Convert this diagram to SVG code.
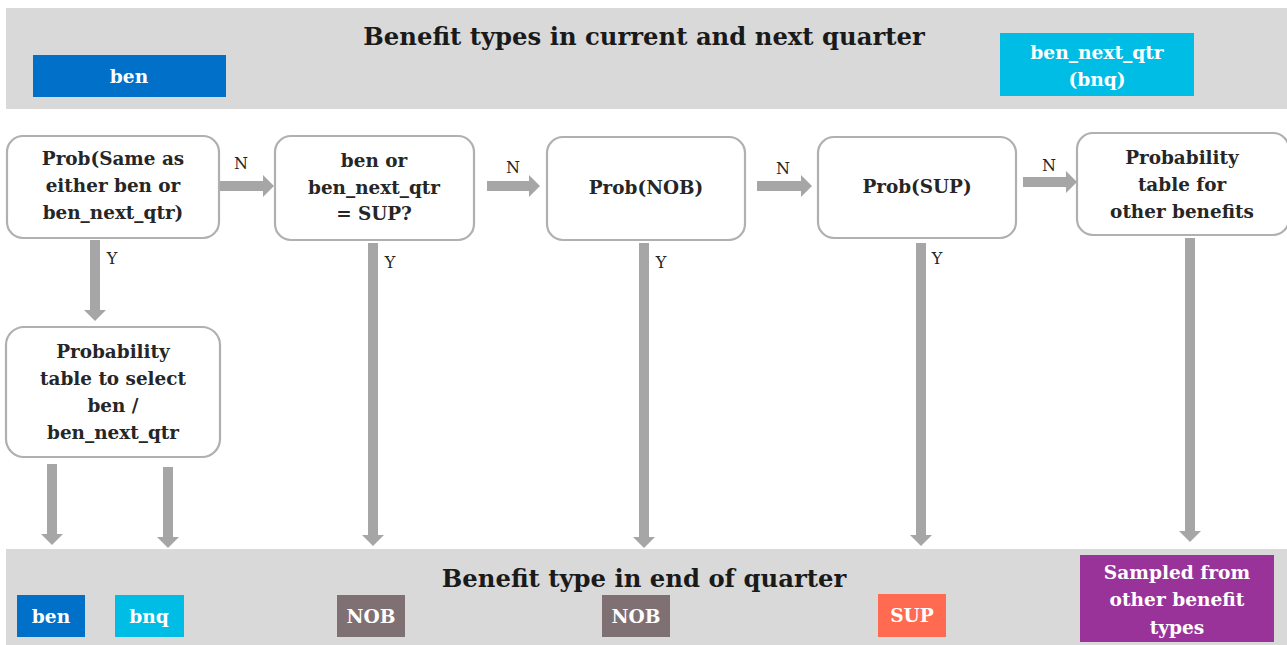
<svg xmlns="http://www.w3.org/2000/svg" width="1287" height="645" viewBox="0 0 1287 645">
<defs>
<style>
.band{fill:#d9d9d9}
.t{font-family:"DejaVu Serif","Liberation Serif",serif;font-weight:bold;fill:#262626;text-anchor:middle}
.nt{font-size:18.4px}
.title{font-size:24.3px;fill:#1a1a1a}
.w{fill:#fff;font-size:18.6px}
.lab{font-family:"DejaVu Serif","Liberation Serif",serif;font-size:16px;fill:#262626;text-anchor:middle}
.ar{stroke:#a6a6a6;stroke-width:10;fill:none}
.box{fill:#fff;stroke:#b0b0b0;stroke-width:2.2}
</style>
<marker id="ah" markerUnits="userSpaceOnUse" markerWidth="12" markerHeight="22" viewBox="0 0 12 22" refX="0" refY="11" orient="auto">
<path d="M0,0 L11,11 L0,22 Z" fill="#a6a6a6"/>
</marker>
</defs>
<rect width="1287" height="645" fill="#fff"/>
<g id="top-band">
<rect class="band" x="6" y="8" width="1281" height="101"/>
<text class="t title" x="644" y="45">Benefit types in current and next quarter</text>
<rect x="33" y="55" width="193" height="42" fill="#0070c8"/>
<text class="t w" x="129" y="83">ben</text>
<rect x="1000" y="33" width="194" height="63" fill="#00bde6"/>
<text class="t w" x="1097" y="59">ben_next_qtr</text>
<text class="t w" x="1097" y="86">(bnq)</text>
</g>
<g id="bottom-band">
<rect class="band" x="6" y="549" width="1281" height="96"/>
<text class="t title" x="644" y="587">Benefit type in end of quarter</text>
<rect x="17" y="595" width="68" height="42" fill="#0070c8"/>
<text class="t w" x="51" y="623">ben</text>
<rect x="115" y="595" width="69" height="42" fill="#00bde6"/>
<text class="t w" x="149" y="623">bnq</text>
<rect x="337" y="595" width="68" height="42" fill="#7f7073"/>
<text class="t w" x="371" y="623">NOB</text>
<rect x="602" y="595" width="68" height="42" fill="#7f7073"/>
<text class="t w" x="636" y="623">NOB</text>
<rect x="878" y="594" width="68" height="43" fill="#ff6b50"/>
<text class="t w" x="912" y="622">SUP</text>
<rect x="1080" y="555" width="194" height="87" fill="#993399"/>
<text class="t w" x="1177" y="579">Sampled from</text>
<text class="t w" x="1177" y="606">other benefit</text>
<text class="t w" x="1177" y="634">types</text>
</g>
<g id="node-same">
<rect class="box" x="7" y="136" width="212" height="102" rx="16"/>
<text class="t nt" x="113" y="165">Prob(Same as</text>
<text class="t nt" x="113" y="192">either ben or</text>
<text class="t nt" x="113" y="219">ben_next_qtr)</text>
</g>
<g id="node-sup-check">
<rect class="box" x="275" y="136" width="199" height="104" rx="16"/>
<text class="t nt" x="374" y="167">ben or</text>
<text class="t nt" x="374" y="194">ben_next_qtr</text>
<text class="t nt" x="374" y="220">= SUP?</text>
</g>
<g id="node-nob">
<rect class="box" x="547" y="137" width="198" height="103" rx="16"/>
<text class="t nt" x="646" y="194">Prob(NOB)</text>
</g>
<g id="node-sup">
<rect class="box" x="818" y="137" width="198" height="101" rx="16"/>
<text class="t nt" x="917" y="193">Prob(SUP)</text>
</g>
<g id="node-other">
<rect class="box" x="1077" y="133" width="212" height="102" rx="16"/>
<text class="t nt" x="1182" y="164">Probability</text>
<text class="t nt" x="1182" y="191">table for</text>
<text class="t nt" x="1182" y="218">other benefits</text>
</g>
<g id="node-select">
<rect class="box" x="6" y="327" width="214" height="130" rx="18"/>
<text class="t nt" x="113" y="358">Probability</text>
<text class="t nt" x="113" y="385">table to select</text>
<text class="t nt" x="113" y="412">ben /</text>
<text class="t nt" x="113" y="439">ben_next_qtr</text>
</g>
<g id="connectors">
<line class="ar" x1="220" y1="186" x2="263" y2="186" marker-end="url(#ah)"/>
<line class="ar" x1="487" y1="186" x2="529" y2="186" marker-end="url(#ah)"/>
<line class="ar" x1="757" y1="186" x2="801" y2="186" marker-end="url(#ah)"/>
<line class="ar" x1="1023" y1="182" x2="1066" y2="182" marker-end="url(#ah)"/>
<line class="ar" x1="95" y1="240" x2="95" y2="310" marker-end="url(#ah)"/>
<line class="ar" x1="373" y1="243" x2="373" y2="535" marker-end="url(#ah)"/>
<line class="ar" x1="644" y1="243" x2="644" y2="537" marker-end="url(#ah)"/>
<line class="ar" x1="921" y1="243" x2="921" y2="535" marker-end="url(#ah)"/>
<line class="ar" x1="1190" y1="238" x2="1190" y2="531" marker-end="url(#ah)"/>
<line class="ar" x1="52" y1="464" x2="52" y2="534" marker-end="url(#ah)"/>
<line class="ar" x1="168" y1="467" x2="168" y2="537" marker-end="url(#ah)"/>
<text class="lab" x="241" y="169">N</text>
<text class="lab" x="513" y="173">N</text>
<text class="lab" x="783" y="174">N</text>
<text class="lab" x="1049" y="171">N</text>
<text class="lab" x="112" y="264">Y</text>
<text class="lab" x="390" y="268">Y</text>
<text class="lab" x="661" y="268">Y</text>
<text class="lab" x="937" y="264">Y</text>
</g>
</svg>
